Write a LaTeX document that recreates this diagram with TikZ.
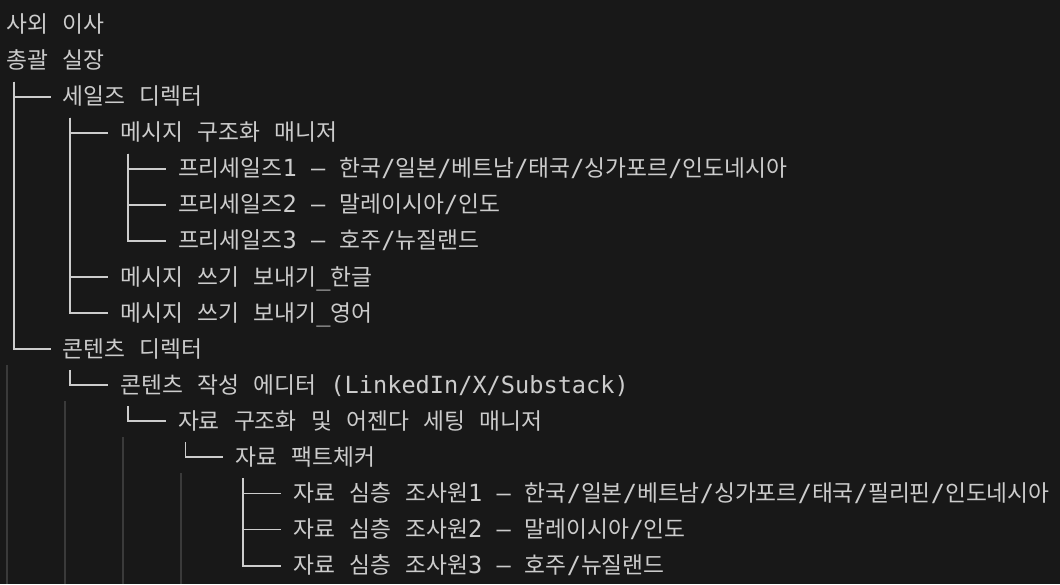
\documentclass[tikz,border=0pt]{standalone}
\usepackage{fontspec}
\usepackage{tikz}
\setmonofont{DejaVu Sans Mono}
\newfontfamily\krfont{Noto Sans CJK KR}[Scale=0.964]
\definecolor{termbg}{HTML}{181818}
\definecolor{termtext}{HTML}{CCCCCC}
\definecolor{guidegray}{HTML}{3A3A3A}
\XeTeXinterchartokenstate=1
\chardef\hangulclass=7
\newcount\hangulcode
\hangulcode="AC00
\loop
  \XeTeXcharclass\hangulcode=\hangulclass
  \ifnum\hangulcode<"D7A3
  \advance\hangulcode by 1
\repeat
\XeTeXinterchartoks 0 \hangulclass = {\krfont}
\XeTeXinterchartoks 4095 \hangulclass = {\krfont}
\XeTeXinterchartoks \hangulclass 0 = {\ttfamily}
\XeTeXinterchartoks \hangulclass 4095 = {\ttfamily}

\begin{document}
\begin{tikzpicture}[x=1pt, y=-1pt,
        every node/.style={font=\fontsize{23.6pt}{28pt}\selectfont\ttfamily, text=termtext, anchor=west, inner sep=0pt, text height=18pt, text depth=2pt},
        branch/.style={draw=termtext, line width=1.8pt},
        guide/.style={draw=guidegray, line width=1.2pt}]
        \path[use as bounding box, fill=termbg] (0,0) rectangle (1060,584);

        \draw[guide] (7,365) -- (7,584);
        \draw[guide] (65,401) -- (65,584);
        \draw[guide] (123,437) -- (123,584);
        \draw[guide] (181,473) -- (181,584);

        \node (outdir) at (6,24.5) {사외 이사};
        \node (chief) at (6,60.6) {총괄 실장};

        \node (sales) at (62.6,96.6) {세일즈 디렉터};
        \node (msgmgr) at (120.2,132.7) {메시지 구조화 매니저};
        \node (pre1) at (177.8,168.8) {프리세일즈1 – 한국/일본/베트남/태국/싱가포르/인도네시아};
        \node (pre2) at (177.8,204.9) {프리세일즈2 – 말레이시아/인도};
        \node (pre3) at (177.8,240.9) {프리세일즈3 – 호주/뉴질랜드};
        \node (writekr) at (120.2,277) {메시지 쓰기 보내기\_한글};
        \node (writeen) at (120.2,313.1) {메시지 쓰기 보내기\_영어};

        \node (content) at (62.6,349.1) {콘텐츠 디렉터};
        \node (editor) at (120.2,385.2) {콘텐츠 작성 에디터 (LinkedIn/X/Substack)};
        \node (datamgr) at (177.8,421.3) {자료 구조화 및 어젠다 세팅 매니저};
        \node (checker) at (235.4,457.3) {자료 팩트체커};
        \node (res1) at (293,493.4) {자료 심층 조사원1 – 한국/일본/베트남/싱가포르/태국/필리핀/인도네시아};
        \node (res2) at (293,529.5) {자료 심층 조사원2 – 말레이시아/인도};
        \node (res3) at (293,565.6) {자료 심층 조사원3 – 호주/뉴질랜드};

        \draw[branch] ([xshift=7.6pt,yshift=-21pt]chief.west) |- ([xshift=-12pt]sales.west);
        \draw[branch] ([xshift=7.6pt,yshift=-21pt]chief.west) |- ([xshift=-12pt]content.west);

        \draw[branch] ([xshift=7.6pt,yshift=-21pt]sales.west) |- ([xshift=-12pt]msgmgr.west);
        \draw[branch] ([xshift=7.6pt,yshift=-21pt]sales.west) |- ([xshift=-12pt]writekr.west);
        \draw[branch] ([xshift=7.6pt,yshift=-21pt]sales.west) |- ([xshift=-12pt]writeen.west);

        \draw[branch] ([xshift=7.6pt,yshift=-21pt]msgmgr.west) |- ([xshift=-12pt]pre1.west);
        \draw[branch] ([xshift=7.6pt,yshift=-21pt]msgmgr.west) |- ([xshift=-12pt]pre2.west);
        \draw[branch] ([xshift=7.6pt,yshift=-21pt]msgmgr.west) |- ([xshift=-12pt]pre3.west);

        \draw[branch] ([xshift=7.6pt,yshift=-21pt]content.west) |- ([xshift=-12pt]editor.west);
        \draw[branch] ([xshift=7.6pt,yshift=-21pt]editor.west) |- ([xshift=-12pt]datamgr.west);
        \draw[branch] ([xshift=7.6pt,yshift=-21pt]datamgr.west) |- ([xshift=-12pt]checker.west);

        \draw[branch] ([xshift=7.6pt,yshift=-21pt]checker.west) |- ([xshift=-12pt]res1.west);
        \draw[branch] ([xshift=7.6pt,yshift=-21pt]checker.west) |- ([xshift=-12pt]res2.west);
        \draw[branch] ([xshift=7.6pt,yshift=-21pt]checker.west) |- ([xshift=-12pt]res3.west);
    \end{tikzpicture}
\end{document}
